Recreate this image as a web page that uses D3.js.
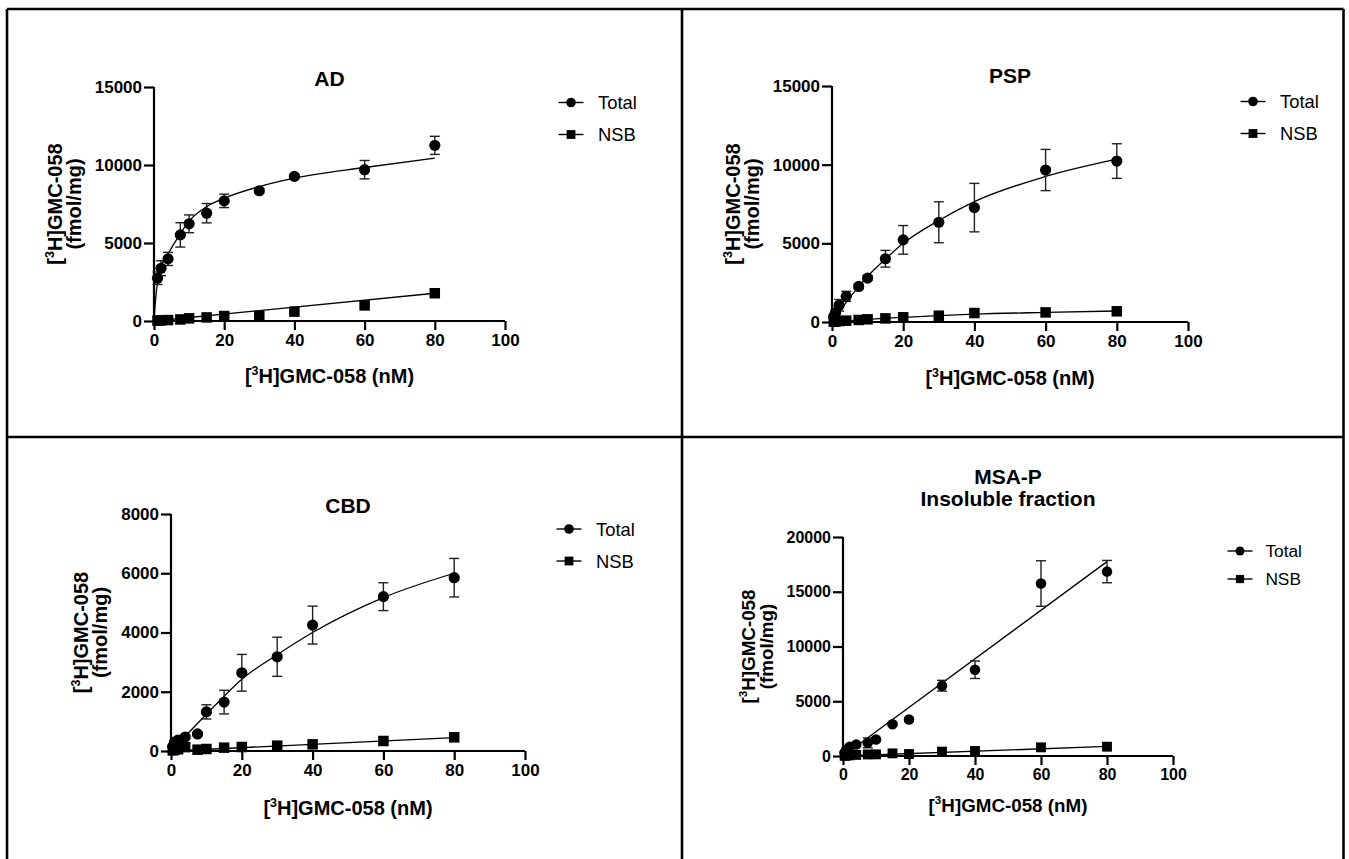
<!DOCTYPE html>
<html>
<head>
<meta charset="utf-8">
<script src="https://cdn.jsdelivr.net/npm/d3@7"></script>
<style>
  html, body { margin: 0; padding: 0; background: #fff; }
  svg { display: block; }
  text { font-family: "Liberation Sans", Arial, Helvetica, sans-serif; fill: #000; }
</style>
</head>
<body>
<svg id="fig" width="1349" height="859"></svg>
<script>
// ---------- data (fmol/mg vs [3H]GMC-058 nM) ----------
const xTicks = [0, 20, 40, 60, 80, 100];
const yTicksAD = [0, 5000, 10000, 15000];
const yTicksPSP = [0, 5000, 10000, 15000];
const yTicksCBD = [0, 2000, 4000, 6000, 8000];
const yTicksMSA = [0, 5000, 10000, 15000, 20000];

// AD
const adConc = [1, 2, 4, 7.5, 10, 15, 20, 30, 40, 60, 80];
const adTotal = [2740, 3380, 3980, 5520, 6230, 6910, 7700, 8350, 9270, 9700, 11260];
const adTotalErr = [400, 480, 420, 780, 570, 620, 430, 150, 120, 590, 580];
const adNsb = [20, 40, 60, 100, 170, 230, 320, 320, 600, 1000, 1780];
const adTotalFitX = [0, 0.5, 1, 2, 4, 7.5, 10, 15, 20, 30, 40, 60, 80];
const adTotalFitY = [0, 1500, 2500, 3450, 4300, 5600, 6400, 7330, 7870, 8620, 9160, 9840, 10440];
const adNsbFitX = [0, 80];
const adNsbFitY = [0, 1780];

// PSP
const pspConc = [0.5, 1, 2, 4, 7.5, 10, 15, 20, 30, 40, 60, 80];
const pspTotal = [350, 600, 1060, 1630, 2260, 2790, 4020, 5220, 6340, 7270, 9660, 10230];
const pspTotalErr = [100, 150, 370, 320, 150, 150, 530, 910, 1300, 1540, 1310, 1100];
const pspNsb = [20, 40, 60, 85, 130, 170, 230, 300, 400, 570, 610, 680];
const pspTotalFitX = [0, 2, 4, 7.5, 10, 15, 20, 30, 40, 60, 80];
const pspTotalFitY = [0, 620, 1250, 2250, 2900, 4000, 5000, 6450, 7650, 9250, 10350];
const pspNsbFitX = [0, 5, 10, 20, 30, 40, 60, 80];
const pspNsbFitY = [0, 90, 170, 300, 410, 500, 610, 700];

// CBD
const cbdConc = [0.5, 1, 2, 4, 7.5, 10, 15, 20, 30, 40, 60, 80];
const cbdTotal = [150, 300, 370, 470, 575, 1320, 1650, 2640, 3180, 4250, 5210, 5850];
const cbdTotalErr = [30, 50, 60, 60, 50, 240, 400, 620, 660, 640, 470, 650];
const cbdNsb = [20, 40, 60, 130, 45, 68, 113, 135, 180, 225, 338, 462];
const cbdTotalFitX = [0, 4, 10, 15, 20, 30, 40, 60, 80];
const cbdTotalFitY = [0, 500, 1240, 1850, 2420, 3250, 4000, 5180, 6000];
const cbdNsbFitX = [0, 80];
const cbdNsbFitY = [0, 450];

// MSA-P, insoluble fraction
const msaConc = [0.5, 1, 2, 4, 7.5, 10, 15, 20, 30, 40, 60, 80];
const msaTotal = [300, 550, 850, 1050, 1200, 1500, 2900, 3340, 6420, 7880, 15750, 16840];
const msaTotalErr = [50, 100, 100, 150, 450, 150, 150, 150, 490, 800, 2080, 1020];
const msaNsb = [20, 40, 60, 100, 140, 150, 240, 180, 400, 460, 790, 850];
const msaTotalFitX = [0, 80];
const msaTotalFitY = [0, 17750];
const msaNsbFitX = [0, 80];
const msaNsbFitY = [0, 870];

const seriesNames = ["Total", "NSB"];

// ---------- layout ----------
const svg = d3.select("#fig");
const FONT = '"Liberation Sans", Arial, Helvetica, sans-serif';

const panels = [
  { title: ["AD"], titleY: [86], conc: adConc, total: adTotal, err: adTotalErr, nsb: adNsb,
    fitTX: adTotalFitX, fitTY: adTotalFitY, fitNX: adNsbFitX, fitNY: adNsbFitY,
    yTicks: yTicksAD, yMax: 15000, yLab: [92, 73],
    px: [154, 505], py: [321, 87], xLabelY: 383, legend: { x: 571, y: [102.5, 134.5] }, fs: 1 },
  { title: ["PSP"], titleY: [83], conc: pspConc, total: pspTotal, err: pspTotalErr, nsb: pspNsb,
    fitTX: pspTotalFitX, fitTY: pspTotalFitY, fitNX: pspNsbFitX, fitNY: pspNsbFitY,
    yTicks: yTicksPSP, yMax: 15000, yLab: [92, 73],
    px: [832, 1188], py: [322, 86], xLabelY: 385, legend: { x: 1253, y: [101.5, 133.5] }, fs: 1 },
  { title: ["CBD"], titleY: [513], conc: cbdConc, total: cbdTotal, err: cbdTotalErr, nsb: cbdNsb,
    fitTX: cbdTotalFitX, fitTY: cbdTotalFitY, fitNX: cbdNsbFitX, fitNY: cbdNsbFitY,
    yTicks: yTicksCBD, yMax: 8000, yLab: [83, 64],
    px: [171, 525], py: [751, 514], xLabelY: 815, legend: { x: 569, y: [529, 561] }, fs: 1 },
  { title: ["MSA-P", "Insoluble fraction"], titleY: [484, 506], conc: msaConc, total: msaTotal, err: msaTotalErr, nsb: msaNsb,
    fitTX: msaTotalFitX, fitTY: msaTotalFitY, fitNX: msaNsbFitX, fitNY: msaNsbFitY,
    yTicks: yTicksMSA, yMax: 20000, yLab: [88, 70],
    px: [843, 1173], py: [756, 537], xLabelY: 812, legend: { x: 1240, y: [551, 579] }, fs: 0.94 }
];

// ---------- panel frame ----------
const frame = svg.append("g").attr("stroke", "#000").attr("stroke-width", 2.6).attr("fill", "none");
frame.append("line").attr("x1", 7).attr("x2", 1343.5).attr("y1", 9).attr("y2", 9);
frame.append("line").attr("x1", 7).attr("x2", 7).attr("y1", 9).attr("y2", 859);
frame.append("line").attr("x1", 1343.5).attr("x2", 1343.5).attr("y1", 9).attr("y2", 859);
frame.append("line").attr("x1", 682).attr("x2", 682).attr("y1", 9).attr("y2", 859);
frame.append("line").attr("x1", 7).attr("x2", 1343.5).attr("y1", 437).attr("y2", 437);

function supLabel(textSel, before, sup, after, size) {
  textSel.append("tspan").text(before);
  textSel.append("tspan").text(sup).attr("font-size", size * 0.62).attr("dy", -size * 0.42);
  textSel.append("tspan").text(after).attr("dy", size * 0.42);
}

function drawPanel(p) {
  const g = svg.append("g");
  const x = d3.scaleLinear().domain([0, 100]).range(p.px);
  const y = d3.scaleLinear().domain([0, p.yMax]).range(p.py);
  const tickFs = 17 * p.fs, labFs = 20 * p.fs, legFs = 18.4 * p.fs, titleFs = 21;

  // axes
  const xAxis = d3.axisBottom(x).tickValues(xTicks).tickSize(9).tickSizeOuter(0).tickPadding(4)
    .tickFormat(d3.format("d"));
  const yAxis = d3.axisLeft(y).tickValues(p.yTicks).tickSize(10).tickSizeOuter(0).tickPadding(2)
    .tickFormat(d3.format("d"));
  const gx = g.append("g").attr("transform", `translate(0,${p.py[0]})`).call(xAxis);
  const gy = g.append("g").attr("transform", `translate(${p.px[0]},0)`).call(yAxis);
  [gx, gy].forEach(a => {
    a.selectAll("path.domain").attr("stroke", "#000").attr("stroke-width", 2.2);
    a.selectAll(".tick line").attr("stroke", "#000").attr("stroke-width", 2.2);
    a.selectAll(".tick text").attr("fill", "#000").style("font-family", FONT)
      .style("font-size", tickFs + "px").style("font-weight", "bold");
  });
  gx.select("path.domain").attr("d", `M${p.px[0] - 1.1},0H${p.px[1]}`);
  gy.select("path.domain").attr("d", `M0,${p.py[0] + 1.1}V${p.py[1]}`);

  // title
  p.title.forEach((t, i) => {
    g.append("text").attr("x", (p.px[0] + p.px[1]) / 2).attr("y", p.titleY[i])
      .attr("text-anchor", "middle").style("font-size", titleFs + "px").style("font-weight", "bold").text(t);
  });

  // x label
  const xl = g.append("text").attr("x", (p.px[0] + p.px[1]) / 2).attr("y", p.xLabelY)
    .attr("text-anchor", "middle").style("font-size", labFs + "px").style("font-weight", "bold");
  supLabel(xl, "[", "3", "H]GMC-058 (nM)", labFs);

  // y label (two lines)
  const yc = (p.py[0] + p.py[1]) / 2;
  const yl1 = g.append("text").attr("transform", `translate(${p.px[0] - p.yLab[0]},${yc}) rotate(-90)`)
    .attr("text-anchor", "middle").style("font-size", labFs + "px").style("font-weight", "bold");
  supLabel(yl1, "[", "3", "H]GMC-058", labFs);
  g.append("text").attr("transform", `translate(${p.px[0] - p.yLab[1]},${yc}) rotate(-90)`)
    .attr("text-anchor", "middle").style("font-size", labFs + "px").style("font-weight", "bold")
    .text("(fmol/mg)");

  // fitted curves
  const line = d3.line().x(d => x(d[0])).y(d => y(d[1])).curve(d3.curveMonotoneX);
  const fitT = p.fitTX.map((v, i) => [v, p.fitTY[i]]);
  const fitN = p.fitNX.map((v, i) => [v, p.fitNY[i]]);
  g.append("path").attr("d", line(fitT)).attr("fill", "none").attr("stroke", "#000").attr("stroke-width", 1.3);
  g.append("path").attr("d", line(fitN)).attr("fill", "none").attr("stroke", "#000").attr("stroke-width", 1.3);

  // error bars (Total)
  const eb = g.append("g").attr("stroke", "#222").attr("stroke-width", 1.4);
  p.conc.forEach((c, i) => {
    const cx = x(c), lo = y(p.total[i] - p.err[i]), hi = y(p.total[i] + p.err[i]);
    eb.append("line").attr("x1", cx).attr("x2", cx).attr("y1", lo).attr("y2", hi);
    eb.append("line").attr("x1", cx - 5).attr("x2", cx + 5).attr("y1", lo).attr("y2", lo);
    eb.append("line").attr("x1", cx - 5).attr("x2", cx + 5).attr("y1", hi).attr("y2", hi);
  });

  // markers
  const r = 5.6 * p.fs, s = 10.5 * p.fs;
  g.append("g").selectAll("rect").data(p.conc).join("rect")
    .attr("x", (c) => x(c) - s / 2).attr("y", (c, i) => y(p.nsb[i]) - s / 2)
    .attr("width", s).attr("height", s).attr("fill", "#000");
  g.append("g").selectAll("circle").data(p.conc).join("circle")
    .attr("cx", (c) => x(c)).attr("cy", (c, i) => y(p.total[i])).attr("r", r).attr("fill", "#000");

  // legend
  const lg = g.append("g");
  seriesNames.forEach((name, i) => {
    const ly = p.legend.y[i], lx = p.legend.x;
    lg.append("line").attr("x1", lx - 12.5).attr("x2", lx + 12.5).attr("y1", ly).attr("y2", ly)
      .attr("stroke", "#000").attr("stroke-width", 1.4);
    if (i === 0) lg.append("circle").attr("cx", lx).attr("cy", ly).attr("r", 4.8 * p.fs).attr("fill", "#000");
    else lg.append("rect").attr("x", lx - 4.4 * p.fs).attr("y", ly - 4.4 * p.fs)
      .attr("width", 8.8 * p.fs).attr("height", 8.8 * p.fs).attr("fill", "#000");
    lg.append("text").attr("x", lx + 27 * p.fs).attr("y", ly + 6.6 * p.fs)
      .style("font-size", legFs + "px").text(name);
  });
}

panels.forEach(drawPanel);
</script>
</body>
</html>
